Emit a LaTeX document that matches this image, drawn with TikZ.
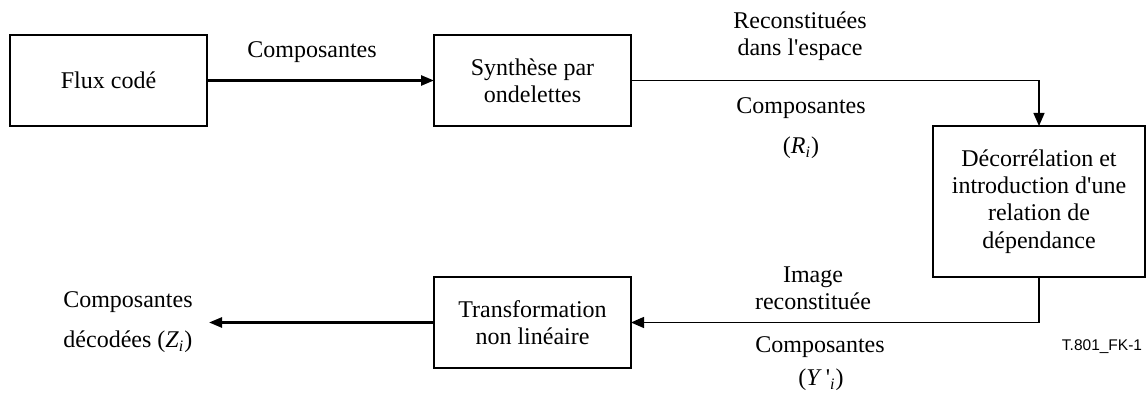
\documentclass[tikz,border=0pt]{standalone}
\usepackage{fontspec}
\setmainfont{Liberation Serif}[Ligatures=TeXOff]
\setsansfont{Liberation Sans}
\usetikzlibrary{arrows.meta,positioning}

\begin{document}
\begin{tikzpicture}[
    x=0.5pt, y=-0.5pt,
    block/.style={draw, line width=0.65pt, minimum width=98.5pt, minimum height=45.5pt,
                  inner sep=2pt, outer sep=0pt, align=center,
                  font=\fontsize{12}{13.7}\selectfont},
    lbl/.style={align=center, inner sep=0pt, font=\fontsize{12}{13.6}\selectfont},
    arr/.style={-{Triangle[length=6.5pt,width=5.5pt]}, line width=0.65pt},
    thickarr/.style={-{Triangle[length=6.5pt,width=5pt]}, line width=1.3pt},
  ]
  \useasboundingbox (0,0) rectangle (1147,394);

  \node[block] (flux) at (108.5,80.5) {Flux codé};
  \node[block, right=113.5pt of flux] (synth) {Synthèse par\\ondelettes};
  \node[block, minimum width=106pt, minimum height=75.5pt,
        below right=0pt and 151pt of synth] (decorr)
        {Décorrélation et\\introduction d'une\\relation de\\dépendance};
  \node[block, below=75.5pt of synth] (transf) {Transformation\\non linéaire};
  \coordinate[left=112.5pt of transf.west] (out);

  \draw[thickarr] (flux) -- (synth);
  \draw[arr] (synth) -| (decorr);
  \draw[arr] (decorr) |- (transf);
  \draw[thickarr] (transf) -- (out);

  % labels on the connectors
  \node[lbl] (comp1) at (312,52) {Composantes};
  \node[lbl] (recon) at (800,36.5) {Reconstituées\\dans l'espace};
  \node[lbl] (comp2) at (801,108) {Composantes};
  \node[lbl] (ri) at (801,148) {(\textit{R}\textsubscript{\textit{i}})};
  \node[lbl] (image) at (813,288.5) {Image\\reconstituée};
  \node[lbl] (comp3) at (820,347) {Composantes};
  \node[lbl] (yi) at (821,380) {(\textit{Y}\,'\textsubscript{\textit{i}})};
  \node[lbl, left=8pt of out] (decod)
        {Composantes\\[6.4pt]décodées (\textit{Z}\textsubscript{\textit{i}})};
  \node[inner sep=0pt, font=\sffamily\fontsize{7.75}{9}\selectfont] (fk)
        at (1102,347) {T.801\_FK-1};
\end{tikzpicture}
\end{document}
